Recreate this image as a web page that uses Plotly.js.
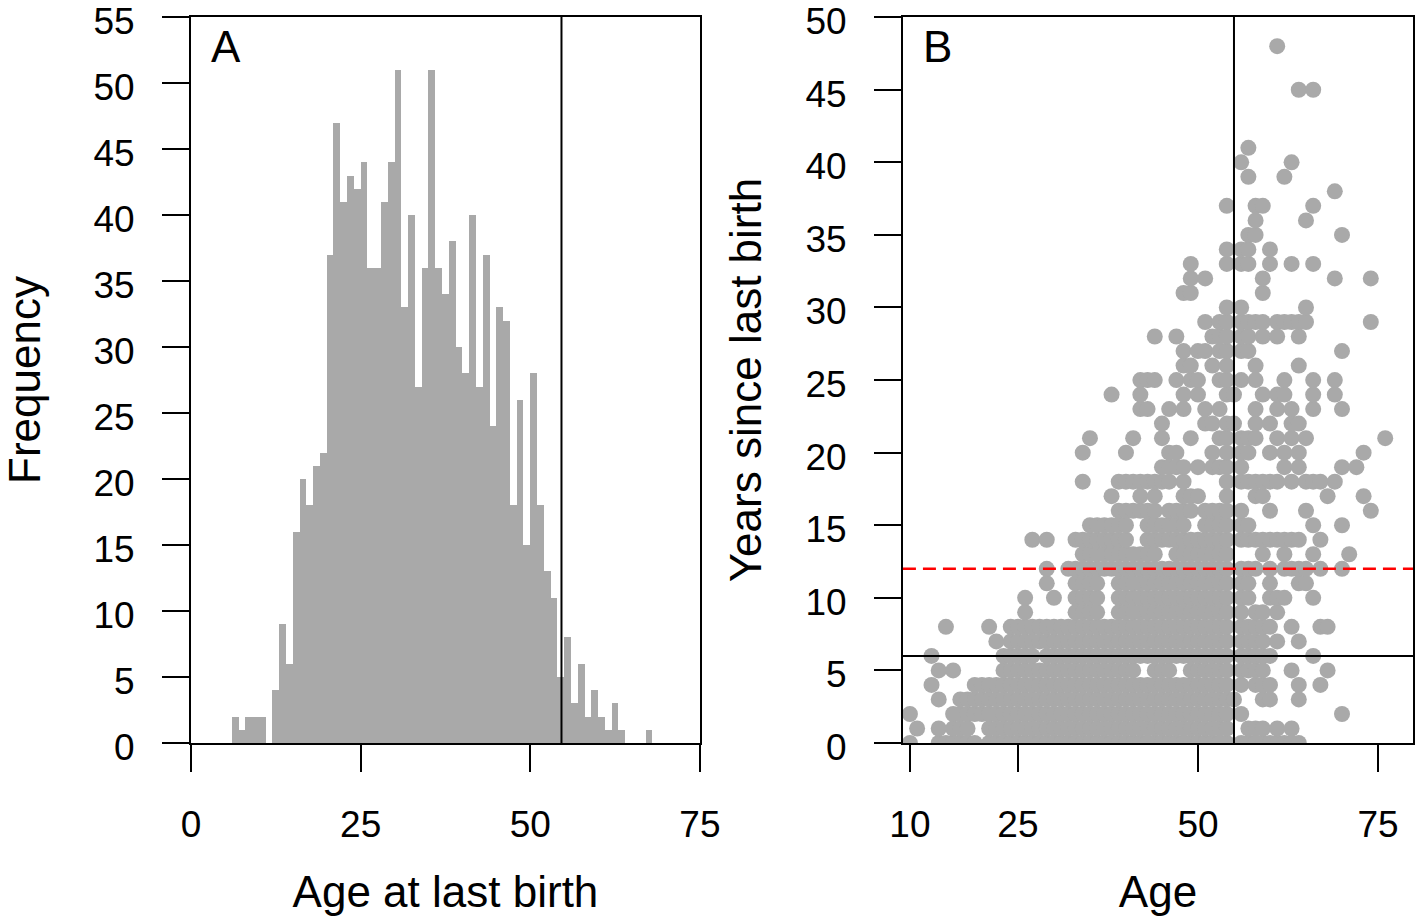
<!DOCTYPE html>
<html>
<head>
<meta charset="utf-8">
<script src="https://cdn.plot.ly/plotly-3.0.1.min.js"></script>
<style>
  body { margin: 0; background: #fff; }
  #plot { width: 1418px; height: 918px; }
</style>
</head>
<body>
<div id="plot"></div>
<script>
// Panel A: age at last birth, 1-year bins (left edge of each bin)
var ageBins = [6,7,8,9,10,11,12,13,14,15,16,17,18,19,20,21,22,23,24,25,26,27,28,29,30,31,32,33,34,35,36,
  37,38,39,40,41,42,43,44,45,46,47,48,49,50,51,52,53,54,55,56,57,58,59,60,61,62,63,64,65,66,67];
var birthCounts = [2,1,2,2,2,0,4,9,6,16,20,18,21,22,37,47,41,43,42,44,36,36,41,44,51,33,40,27,36,51,36,
  34,38,30,28,40,27,37,24,33,32,18,26,15,28,18,13,11,5,8,3,6,2,4,2,1,3,1,0,0,0,1];

// Panel B: ages (x) of the points, listed per "years since last birth" (index = years)
var agesByYearsSince = [
  [10,14,15,16,17,18,19,21,22,23,24,25,26,27,28,29,30,31,32,33,34,35,36,37,38,39,40,41,42,43,44,45,46,47,48,49,50,51,52,53,54,56,57,58,59,60,61,62,63,64],
  [11,14,16,17,18,21,22,23,24,25,26,27,28,29,30,31,32,33,34,35,36,37,38,39,40,41,42,43,44,45,46,47,48,49,50,51,52,53,54,57,58,59,61,63],
  [10,16,17,18,19,20,21,22,23,24,25,26,27,28,29,30,31,32,33,34,35,36,37,38,39,40,41,42,43,44,45,46,47,48,49,50,51,52,53,54,56,70],
  [14,17,18,19,20,21,22,23,24,25,26,27,28,29,30,31,32,33,34,35,36,37,38,39,40,41,42,43,44,45,46,47,48,49,50,51,52,53,54,55,59,60,64],
  [13,19,20,21,22,23,24,25,26,27,28,29,30,31,32,33,34,35,36,37,38,39,40,41,42,43,44,45,46,47,48,49,50,51,52,53,54,56,58,59,60,64,67],
  [14,16,23,24,25,26,27,28,29,30,31,32,33,34,35,36,37,38,39,40,41,44,45,46,49,50,51,52,53,54,56,57,58,59,63,68],
  [13,23,24,25,26,27,29,30,31,32,33,34,35,36,37,38,39,40,41,42,43,44,45,46,47,48,49,50,51,52,53,54,56,57,58,59,60,66],
  [22,24,25,26,27,28,29,30,31,32,33,34,35,36,37,38,39,40,41,42,43,44,45,46,47,48,49,50,51,52,53,54,56,57,58,59,61,64],
  [15,21,24,25,26,27,28,29,30,31,32,33,34,35,36,37,38,39,40,41,42,43,44,45,46,47,48,49,50,51,52,53,54,56,57,58,59,60,63,67,68],
  [26,33,34,35,36,39,40,41,42,43,44,45,46,47,48,49,50,51,52,53,54,56,58,59,61],
  [26,30,33,34,35,36,39,40,41,42,43,44,45,46,47,48,49,50,51,52,53,54,56,57,60,61,62,66],
  [29,33,34,35,36,39,40,41,42,43,44,45,46,47,48,49,50,51,52,53,54,56,57,60,64,65],
  [29,32,33,34,35,36,37,38,39,40,41,42,43,44,45,46,47,48,49,50,51,52,53,54,56,57,58,60,62,63,64,65,67,70],
  [34,35,36,37,38,39,40,41,42,43,44,47,48,49,50,51,52,53,54,59,62,66,71],
  [27,29,33,34,35,36,37,38,39,40,43,44,45,46,47,48,49,50,51,52,53,54,56,57,58,59,60,61,62,63,64,67],
  [35,36,37,38,39,40,43,44,45,46,47,48,51,52,53,54,56,57,66,70],
  [39,40,41,42,43,44,46,47,48,49,51,52,53,54,56,60,65,74],
  [38,42,44,48,49,50,54,58,59,68,73],
  [34,39,40,41,42,43,44,45,46,48,54,56,57,58,59,60,61,63,65,66,67,69],
  [45,46,47,48,50,52,53,54,56,62,64,70,72],
  [34,40,46,47,52,54,56,57,60,62,64,73],
  [35,41,45,49,53,54,56,57,58,61,63,65,76],
  [45,51,52,54,55,58,60,63,64],
  [42,43,46,48,51,53,58,61,63,66,70],
  [38,42,48,50,54,55,59,61,62,66,69],
  [42,43,44,47,49,50,53,54,56,58,62,66,69],
  [48,49,52,54,58,64],
  [48,50,51,53,54,56,57,70],
  [44,47,52,53,54,56,57,59,61,64],
  [51,53,54,56,57,58,59,61,62,63,64,65,74],
  [54,56,65],
  [48,49,59],
  [49,51,59,69,74],
  [49,54,56,57,60,63,66],
  [54,56,57,60],
  [57,58,70],
  [58,65],
  [54,58,59,66],
  [69],
  [57,62],
  [56,63],
  [57],
  [],
  [],
  [],
  [64,66],
  [],
  [],
  [61]
];

// Reference lines
var lastBirthLineA = 54.6;
var ageLineB = 55;
var yearsLineSolid = 6;
var yearsLineDashed = 12;

var ptAge = [], ptYears = [];
agesByYearsSince.forEach(function (ages, yrs) {
  ages.forEach(function (a) { ptAge.push(a); ptYears.push(yrs); });
});

var grey = "#a9a9a9";

var trace1 = {
  type: "bar",
  x: ageBins,
  y: birthCounts,
  offset: 0,
  width: 1,
  marker: { color: grey, line: { width: 0 } },
  xaxis: "x",
  yaxis: "y",
  hoverinfo: "x+y"
};

var trace2 = {
  type: "scatter",
  mode: "markers",
  x: ptAge,
  y: ptYears,
  marker: { color: grey, size: 16 },
  xaxis: "x2",
  yaxis: "y2"
};

function axisStyle(extra) {
  var base = {
    showline: true,
    linecolor: "#000",
    linewidth: 2,
    mirror: true,
    ticks: "outside",
    ticklen: 27,
    tickwidth: 2,
    tickcolor: "#000",
    showgrid: false,
    zeroline: false,
    ticklabeloverflow: "allow",
    tickfont: { size: 37, color: "#000" },
    fixedrange: true
  };
  for (var k in extra) base[k] = extra[k];
  return base;
}

var titleFont = { size: 44, color: "#000" };

var layout = {
  width: 1418,
  height: 918,
  margin: { l: 191, r: 5, t: 17, b: 175, pad: 0 },
  paper_bgcolor: "#fff",
  plot_bgcolor: "#fff",
  showlegend: false,
  bargap: 0,
  font: { family: "Liberation Sans, Arial, sans-serif", color: "#000" },
  xaxis: axisStyle({
    domain: [0, 0.4165], anchor: "y", range: [0, 75.01],
    tickvals: [0, 25, 50, 75], ticklabelstandoff: 21,
    title: { text: "Age at last birth", font: titleFont, standoff: 32 }
  }),
  yaxis: axisStyle({
    domain: [0, 1], anchor: "x", range: [0, 55.01], tick0: 0, dtick: 5,
    ticklabelstandoff: 20, ticklabelshift: 4,
    title: { text: "Frequency", font: titleFont, standoff: 48 }
  }),
  xaxis2: axisStyle({
    domain: [0.5826, 1], anchor: "y2", range: [9.03, 79.86],
    tickvals: [10, 25, 50, 75], ticklabelstandoff: 21,
    title: { text: "Age", font: titleFont, standoff: 32 }
  }),
  yaxis2: axisStyle({
    domain: [0, 1], anchor: "x2", range: [0, 50.01], tick0: 0, dtick: 5,
    ticklabelstandoff: 20, ticklabelshift: 4,
    title: { text: "Years since last birth", font: titleFont, standoff: 30 }
  }),
  shapes: [
    { type: "line", xref: "x", yref: "y domain", x0: lastBirthLineA, x1: lastBirthLineA, y0: 0, y1: 1,
      line: { color: "#000", width: 2 } },
    { type: "line", xref: "x2", yref: "y2 domain", x0: ageLineB, x1: ageLineB, y0: 0, y1: 1,
      line: { color: "#000", width: 2 } },
    { type: "line", xref: "x2 domain", yref: "y2", x0: 0, x1: 1, y0: yearsLineSolid, y1: yearsLineSolid,
      line: { color: "#000", width: 2 } },
    { type: "line", xref: "x2 domain", yref: "y2", x0: 0, x1: 1, y0: yearsLineDashed, y1: yearsLineDashed,
      line: { color: "#ff0000", width: 2.5, dash: "13px,7px" } }
  ],
  annotations: [
    { text: "A", xref: "x domain", yref: "y domain", x: 0.035, y: 0.96, xanchor: "left", yanchor: "middle",
      showarrow: false, font: { size: 44, color: "#000" } },
    { text: "B", xref: "x2 domain", yref: "y2 domain", x: 0.035, y: 0.96, xanchor: "left", yanchor: "middle",
      showarrow: false, font: { size: 44, color: "#000" } }
  ]
};

Plotly.newPlot("plot", [trace1, trace2], layout, { displayModeBar: false, staticPlot: true });
</script>
</body>
</html>
